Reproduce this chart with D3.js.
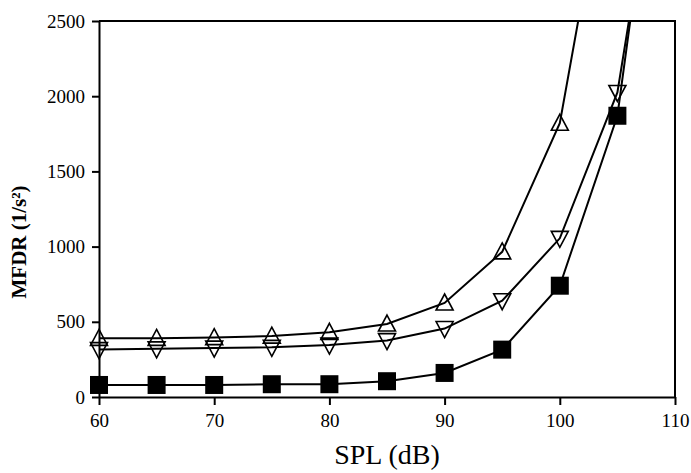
<!DOCTYPE html>
<html lang="en">
<head>
<meta charset="utf-8">
<script src="https://d3js.org/d3.v7.min.js"></script>
<style>
  body { margin: 0; background: #fff; }
  text { font-family: "Liberation Serif", "Times New Roman", serif; }
</style>
</head>
<body>
<div id="chart"></div>
<script>
// SPL levels (dB)
var spl = [60, 65, 70, 75, 80, 85, 90, 95, 100, 105, 110];
// MFDR series (last points run off the top of the frame)
var upTri   = [390, 390, 395, 405, 430, 485, 625, 965, 1820, 3950];
var downTri = [315, 320, 325, 330, 345, 375, 455, 640, 1055, 2025, 4400];
var squares = [80, 80, 80, 85, 85, 105, 160, 315, 740, 1870, 4700];
var xTicks = [60, 70, 80, 90, 100, 110];
var yTicks = [0, 500, 1000, 1500, 2000, 2500];

var w = 691, h = 473;
var margin = {left: 99, right: 16, top: 21, bottom: 76};

var svg = d3.select("#chart").append("svg")
  .attr("width", w)
  .attr("height", h);

var x = d3.scaleLinear().domain([60, 110]).range([margin.left, w - margin.right]);
var y = d3.scaleLinear().domain([0, 2500]).range([h - margin.bottom, margin.top]);

svg.append("clipPath").attr("id", "clip")
  .append("rect")
  .attr("x", x(60)).attr("y", y(2500))
  .attr("width", x(110) - x(60)).attr("height", y(0) - y(2500));

// frame top and right
svg.append("path")
  .attr("d", "M" + x(60) + "," + y(2500) + "H" + x(110) + "V" + y(0))
  .attr("fill", "none").attr("stroke", "#000").attr("stroke-width", 2);

var xAxis = svg.append("g")
  .attr("transform", "translate(0," + y(0) + ")")
  .call(d3.axisBottom(x).tickValues(xTicks).tickFormat(d3.format("d"))
    .tickSize(8).tickPadding(9).tickSizeOuter(0));
var yAxis = svg.append("g")
  .attr("transform", "translate(" + x(60) + ",0)")
  .call(d3.axisLeft(y).tickValues(yTicks).tickFormat(d3.format("d"))
    .tickSize(7).tickPadding(7).tickSizeOuter(0));

[xAxis, yAxis].forEach(function(a) {
  a.select(".domain").attr("stroke-width", 2);
  a.selectAll(".tick line").attr("stroke-width", 2);
  a.selectAll(".tick text")
    .style("font-family", "Liberation Serif, Times New Roman, serif")
    .style("font-size", "19px")
    .attr("fill", "#000");
});

var line = d3.line()
  .x(function(d, i) { return x(spl[i]); })
  .y(function(d) { return y(d); });

var plot = svg.append("g").attr("clip-path", "url(#clip)");

[upTri, downTri, squares].forEach(function(s) {
  plot.append("path")
    .datum(s)
    .attr("d", line)
    .attr("fill", "none")
    .attr("stroke", "#000")
    .attr("stroke-width", 2);
});

function visible(s) {
  return s.map(function(v, i) { return {x: spl[i], y: v}; })
          .filter(function(d) { return d.y <= 2500; });
}

var triUp = "M0,-9L8.5,7L-8.5,7Z";
var triDown = "M0,9L8.5,-7L-8.5,-7Z";

svg.selectAll(".up").data(visible(upTri)).enter().append("path")
  .attr("class", "up")
  .attr("transform", function(d) { return "translate(" + x(d.x) + "," + y(d.y) + ")"; })
  .attr("d", triUp)
  .attr("fill", "none").attr("stroke", "#000").attr("stroke-width", 1.6);

svg.selectAll(".down").data(visible(downTri)).enter().append("path")
  .attr("class", "down")
  .attr("transform", function(d) { return "translate(" + x(d.x) + "," + y(d.y) + ")"; })
  .attr("d", triDown)
  .attr("fill", "none").attr("stroke", "#000").attr("stroke-width", 1.6);

svg.selectAll(".sq").data(visible(squares)).enter().append("rect")
  .attr("class", "sq")
  .attr("x", function(d) { return x(d.x) - 9; })
  .attr("y", function(d) { return y(d.y) - 9; })
  .attr("width", 18).attr("height", 18)
  .attr("fill", "#000");

svg.append("text")
  .attr("x", 387)
  .attr("y", 464)
  .attr("text-anchor", "middle")
  .style("font-size", "28px")
  .text("SPL (dB)");

svg.append("text")
  .attr("transform", "translate(26,242) rotate(-90)")
  .attr("text-anchor", "middle")
  .style("font-size", "21px")
  .style("font-weight", "bold")
  .text("MFDR (1/s²)");
</script>
</body>
</html>
